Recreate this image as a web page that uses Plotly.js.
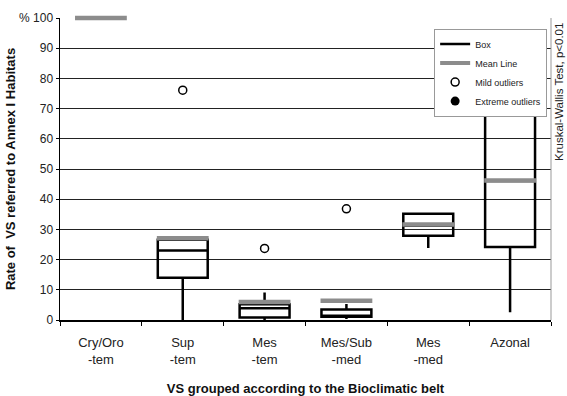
<!DOCTYPE html>
<html>
<head>
<meta charset="utf-8">
<script src="https://cdn.plot.ly/plotly-3.0.1.min.js"></script>
<style>html,body{margin:0;padding:0;background:#fff;}#chart{width:567px;height:396px;}</style>
</head>
<body>
<div id="chart"></div>
<script>
// Categories (bioclimatic belts)
var categories = ["Cry/Oro<br>-tem", "Sup<br>-tem", "Mes<br>-tem", "Mes/Sub<br>-med", "Mes<br>-med", "Azonal"];
// Box statistics (%)
var q1Values     = [100, 14.0, 0.8, 1.1, 27.9, 24.2];
var medianValues = [100, 23.0, 3.9, 1.1, 31.2, 46.0];
var q3Values     = [100, 26.6, 5.2, 3.5, 35.2, 67.9];
var lowerValues  = [100, 0.0, 0.0, 0.3, 23.8, 2.6];
var upperValues  = [100, 26.6, 9.1, 5.3, 35.2, 67.9];
// Means
var meanValues   = [100, 27.1, 6.0, 6.4, 31.6, 46.2];
// Mild outliers
var outlierCats   = ["Sup<br>-tem", "Mes<br>-tem", "Mes/Sub<br>-med"];
var outlierValues = [76.1, 23.7, 36.8];
// Y tick labels
var yTickVals  = [0, 10, 20, 30, 40, 50, 60, 70, 80, 90, 100];
var yTickTexts = ["0", "10", "20", "30", "40", "50", "60", "70", "80", "90", "% 100"];

var FONT = "Liberation Sans, Arial, sans-serif";

var traces = [
  {
    type: "box", x: categories, q1: q1Values, median: medianValues, q3: q3Values,
    lowerfence: lowerValues, upperfence: upperValues,
    width: 0.61, whiskerwidth: 0, boxpoints: false,
    line: {color: "#000", width: 2.5}, fillcolor: "rgba(255,255,255,0)",
    showlegend: false, hoverinfo: "skip"
  },
  {
    type: "scatter", mode: "markers", x: categories, y: meanValues,
    marker: {symbol: "line-ew", size: 37, line: {color: "#8c8c8c", width: 4.5}},
    showlegend: false, hoverinfo: "skip", cliponaxis: false
  },
  {
    type: "scatter", mode: "markers", x: outlierCats, y: outlierValues,
    marker: {symbol: "circle-open", size: 8, color: "#000", line: {color: "#000", width: 1.5}},
    showlegend: false, hoverinfo: "skip"
  },
  // legend entries
  {type: "scatter", mode: "lines", x: [null], y: [null], name: "Box", line: {color: "#000", width: 2.5}},
  {type: "scatter", mode: "lines", x: [null], y: [null], name: "Mean Line", line: {color: "#8c8c8c", width: 4}},
  {type: "scatter", mode: "markers", x: [null], y: [null], name: "Mild outliers",
   marker: {symbol: "circle-open", size: 8, color: "#000", line: {color: "#000", width: 1.5}}},
  {type: "scatter", mode: "markers", x: [null], y: [null], name: "Extreme outliers",
   marker: {symbol: "circle", size: 9, color: "#000"}}
];

var layout = {
  width: 567, height: 396,
  margin: {l: 60, r: 16, t: 18, b: 76},
  paper_bgcolor: "#fff", plot_bgcolor: "#fff",
  font: {family: FONT, color: "#222", size: 12},
  showlegend: true,
  legend: {
    x: 0.762, y: 0.965, xanchor: "left", yanchor: "top",
    bgcolor: "#fff", bordercolor: "#999", borderwidth: 1,
    font: {family: FONT, size: 9, color: "#222"},
    tracegroupgap: 0, itemwidth: 30
  },
  xaxis: {
    type: "category", categoryorder: "array", categoryarray: categories,
    range: [-0.5, 5.5], showgrid: false, zeroline: false,
    showline: true, linecolor: "#000", linewidth: 1.5,
    ticks: "outside", ticklen: 4, tickcolor: "#000", tickson: "boundaries",
    ticklabelstandoff: 10,
    tickfont: {family: FONT, size: 13, color: "#222"},
    title: {text: "VS grouped according to the Bioclimatic belt", font: {family: FONT, size: 13, color: "#111", weight: "bold"}, standoff: 29}
  },
  yaxis: {
    range: [0, 100], tickvals: yTickVals, ticktext: yTickTexts,
    showgrid: true, gridcolor: "#222", gridwidth: 1, zeroline: false,
    showline: true, linecolor: "#000", linewidth: 1.5,
    ticks: "outside", ticklen: 3, tickcolor: "#000",
    tickfont: {family: FONT, size: 12, color: "#222"},
    title: {text: "Rate of  VS referred to Annex I Habitats", font: {family: FONT, size: 13, color: "#111", weight: "bold"}, standoff: 0}
  },
  shapes: [
    {type: "line", xref: "paper", yref: "paper", x0: 1, x1: 1, y0: 0, y1: 1, line: {color: "#999", width: 1}}
  ],
  annotations: [
    {xref: "paper", yref: "paper", x: 1, y: 0.755, xanchor: "left", yanchor: "middle", xshift: 0,
     text: "Kruskal-Wallis Test, p<0.01", textangle: -90, showarrow: false,
     font: {family: FONT, size: 11.5, color: "#222"}}
  ]
};

Plotly.newPlot("chart", traces, layout, {staticPlot: true, displayModeBar: false});
</script>
</body>
</html>
